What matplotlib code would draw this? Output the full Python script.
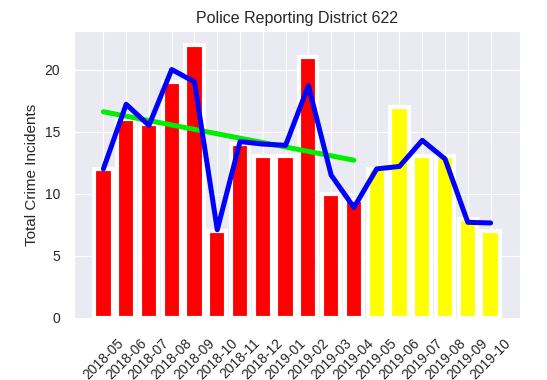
import matplotlib
matplotlib.use('Agg')
import matplotlib.pyplot as plt
import seaborn as sns

sns.set_style('darkgrid')
plt.rcParams['font.family'] = ['Liberation Sans', 'DejaVu Sans']

# monthly totals
months = ['2018-05', '2018-06', '2018-07', '2018-08', '2018-09', '2018-10',
          '2018-11', '2018-12', '2019-01', '2019-02', '2019-03', '2019-04',
          '2019-05', '2019-06', '2019-07', '2019-08', '2019-09', '2019-10']
past_counts = [12, 16, 15.6, 19, 22, 7, 14, 13, 13, 21, 10, 9.5]
future_counts = [12, 17, 13, 13, 8, 7]
model_line = [12.0, 17.2, 15.5, 20.0, 19.0, 7.1, 14.2, 14.0, 13.9, 18.7, 11.5, 8.9,
              12.0, 12.2, 14.3, 12.8, 7.7, 7.65]
trend_ends = [16.6, 12.7]

n_past = len(past_counts)
x_past = list(range(n_past))
x_future = list(range(n_past, n_past + len(future_counts)))
x_all = list(range(len(months)))

fig = plt.figure(figsize=(5.47, 3.80), dpi=100)
ax = fig.add_axes([0.1353, 0.1632, 0.8153, 0.7552])

ax.bar(x_past, past_counts, width=0.8, color='red', edgecolor='white', linewidth=3)
ax.bar(x_future, future_counts, width=0.8, color='yellow', edgecolor='white', linewidth=3)
ax.plot([x_past[0], x_past[-1]], trend_ends, color='#00ee00', linewidth=3.6)
ax.plot(x_all, model_line, color='blue', linewidth=3.6)

ax.set_title('Police Reporting District 622', fontsize=11.5, color='#262626')
ax.set_ylabel('Total Crime Incidents', fontsize=11, color='#262626')
ax.set_xticks(x_all)
ax.set_xticklabels(months, rotation=45)
ax.set_yticks([0, 5, 10, 15, 20])
ax.set_ylim(0, 23.1)
ax.tick_params(axis='both', length=0, labelsize=10, labelcolor='#262626')
ax.tick_params(axis='y', pad=10)
ax.tick_params(axis='x', pad=13)

fig.savefig('out.png', dpi=100)
